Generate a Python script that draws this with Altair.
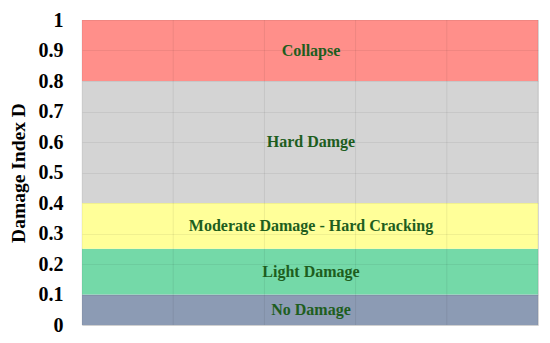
import altair as alt
import pandas as pd

lower = [0.0, 0.1, 0.25, 0.4, 0.8]
upper = [0.1, 0.25, 0.4, 0.8, 1.0]
labels = ["No Damage", "Light Damage", "Moderate Damage - Hard Cracking", "Hard Damge", "Collapse"]
colors = ["#8C9BB4", "#74D9A8", "#FFFF99", "#D4D4D4", "#FF8F8A"]
y_ticks = [0, 0.1, 0.2, 0.3, 0.4, 0.5, 0.6, 0.7, 0.8, 0.9, 1.0]
x_grid = [0, 1, 2, 3, 4, 5]

df = pd.DataFrame({"lo": lower, "hi": upper, "label": labels, "color": colors})

W, H = 456, 305
FONT = "Liberation Serif"

yaxis = alt.Axis(values=y_ticks, format="~g", title="Damage Index D",
                 labelFont=FONT, labelFontSize=20, labelFontWeight="bold",
                 labelColor="black", labelPadding=19, ticks=False, domain=False,
                 labelOverlap=False, labelBound=False, labelFlush=False,
                 titleFont=FONT, titleFontSize=19.5, titleFontWeight="bold",
                 titleColor="black", titlePadding=10,
                 grid=True, gridColor="#000000", gridOpacity=0.06, zindex=1)

yscale = alt.Scale(domain=[0, 1], nice=False)

base = alt.Chart(df)

bands = base.mark_rect().encode(
    x=alt.value(0),
    x2=alt.value(W),
    y=alt.Y("lo:Q", scale=yscale, axis=yaxis),
    y2="hi:Q",
    color=alt.Color("color:N", scale=None),
)

vgrid = alt.Chart(pd.DataFrame({"gx": x_grid})).mark_rule(color="#000000", opacity=0.07, strokeWidth=1).encode(
    x=alt.X("gx:Q", scale=alt.Scale(domain=[0, 5], nice=False), axis=None),
)

text = base.transform_calculate(mid="(datum.lo + datum.hi) / 2").mark_text(
    font=FONT, fontSize=16, fontWeight="bold", color="#1E5E1E", baseline="middle", align="center"
).encode(
    x=alt.value(W / 2 + 1),
    y=alt.Y("mid:Q", scale=yscale, axis=yaxis),
    text="label:N",
)

chart = alt.layer(bands, vgrid, text).properties(
    width=W, height=H,
    autosize=alt.AutoSizeParams(type="none"),
    padding={"left": 74, "top": 12, "right": 4, "bottom": 10},
).configure_view(stroke="#DDDDDD", strokeWidth=1).configure(background="white")

chart.save("out.html", embed_options={"renderer": "svg", "actions": False})
